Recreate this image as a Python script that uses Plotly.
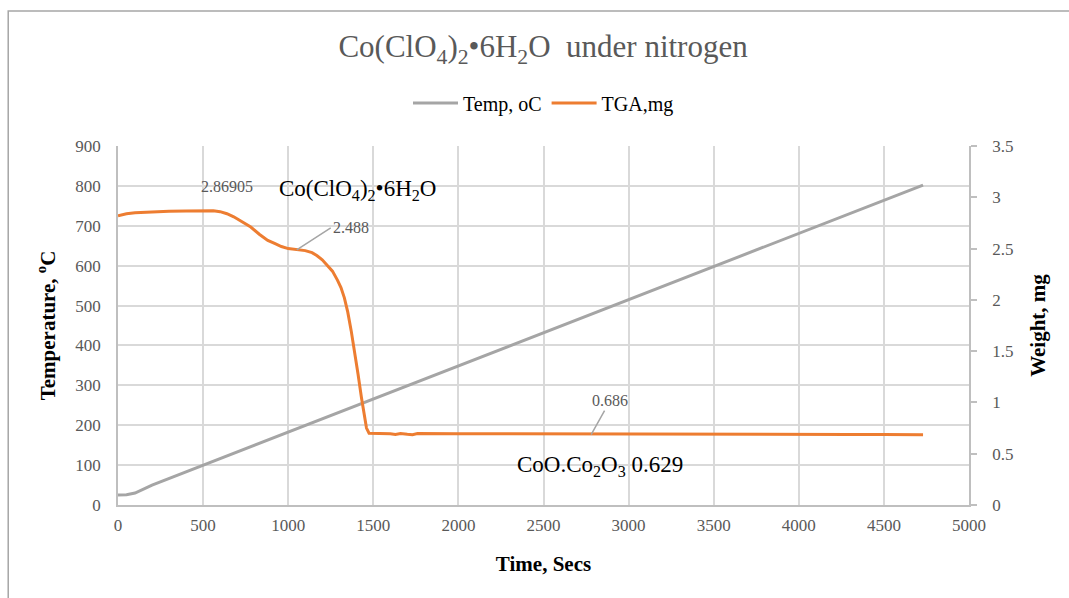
import plotly.graph_objects as go

# ---- data ----
temp_time = [0, 50, 100, 150, 200, 4730]
temp_c = [25, 25.5, 30, 41, 50, 802]

tga_time = [0, 50, 100, 190, 300, 400, 500, 560, 600, 640, 680, 720, 780, 830, 880,
            920, 960, 1000, 1050, 1100, 1140, 1170, 1200, 1230, 1260, 1290, 1310, 1330,
            1350, 1370, 1390, 1410, 1430, 1445, 1460, 1475, 1500, 1550, 1600, 1630, 1660,
            1700, 1730, 1760, 1800, 1900, 1950, 2000, 2200, 2500, 2800, 3000, 3300, 3500,
            3600, 3800, 4000, 4300, 4500, 4730]
tga_mg = [2.82, 2.84, 2.85, 2.86, 2.865, 2.867, 2.869, 2.868, 2.86, 2.84, 2.81, 2.77, 2.71,
          2.64, 2.58, 2.55, 2.52, 2.50, 2.488, 2.48, 2.46, 2.43, 2.39, 2.34, 2.28, 2.19,
          2.12, 2.02, 1.88, 1.70, 1.50, 1.28, 1.05, 0.88, 0.75, 0.70, 0.70, 0.698, 0.695,
          0.688, 0.697, 0.69, 0.686, 0.697, 0.696, 0.694, 0.689, 0.695, 0.694, 0.692, 0.690,
          0.690, 0.688, 0.688, 0.686, 0.688, 0.688, 0.687, 0.687, 0.686]

x_ticks = [0, 500, 1000, 1500, 2000, 2500, 3000, 3500, 4000, 4500, 5000]
y_ticks = [0, 100, 200, 300, 400, 500, 600, 700, 800, 900]
y2_ticks = [0, 0.5, 1, 1.5, 2, 2.5, 3, 3.5]

# labelled points (time, value, text)
lbl_max = (640, 2.86905, "2.86905")
lbl_step = (1050, 2.488, "2.488")
lbl_final = (2780, 0.686, "0.686")

FONT = "Liberation Serif"
GRAY_TXT = "#595959"
GRID = "#d9d9d9"
AXIS = "#bfbfbf"

fig = go.Figure()
fig.add_trace(go.Scatter(x=temp_time, y=temp_c, mode="lines", name="Temp, oC",
                         line=dict(color="#a5a5a5", width=3)))
fig.add_trace(go.Scatter(x=tga_time, y=tga_mg, mode="lines", name="TGA,mg", yaxis="y2",
                         line=dict(color="#ed7d31", width=3)))

fig.update_layout(
    width=1069, height=598,
    margin=dict(l=118, r=100, t=146, b=93),
    paper_bgcolor="white", plot_bgcolor="white",
    font=dict(family=FONT, color=GRAY_TXT, size=17),
    title=dict(text="Co(ClO<sub>4</sub>)<sub>2</sub>•6H<sub>2</sub>O  under nitrogen",
               x=0.508, xanchor="center", y=0.922, yanchor="middle",
               font=dict(family=FONT, size=31, color=GRAY_TXT)),
    legend=dict(orientation="h", x=0.5, xanchor="center", y=1.12, yanchor="middle",
                font=dict(family=FONT, size=20, color="#000000"), itemwidth=45,
                bgcolor="rgba(0,0,0,0)"),
    xaxis=dict(range=[0, 5000], tickvals=x_ticks, showgrid=True, gridcolor=GRID, gridwidth=1.5,
               showline=True, linecolor=AXIS, linewidth=1.5, zeroline=False, ticks="",
               ticklabelstandoff=4,
               tickfont=dict(family=FONT, size=17, color=GRAY_TXT),
               title=dict(text="<b>Time, Secs</b>", font=dict(family=FONT, size=21, color="#000"),
                          standoff=22)),
    yaxis=dict(range=[0, 900], tickvals=y_ticks, showgrid=True, gridcolor=GRID, gridwidth=1.5,
               showline=True, linecolor=AXIS, linewidth=1.5, zeroline=False, ticks="",
               ticklabelstandoff=12,
               tickfont=dict(family=FONT, size=17, color=GRAY_TXT),
               title=dict(text="<b>Temperature, <sup>o</sup>C</b>",
                          font=dict(family=FONT, size=21, color="#000"), standoff=14)),
    yaxis2=dict(range=[0, 3.5], tickvals=y2_ticks, overlaying="y", side="right",
                showgrid=False, zeroline=False, showline=True, linecolor=AXIS, linewidth=1.5,
                ticks="outside", ticklen=6, tickcolor=AXIS, tickwidth=1.5,
                ticklabelstandoff=12,
                tickfont=dict(family=FONT, size=17, color=GRAY_TXT),
                title=dict(text="<b>Weight, mg</b>", font=dict(family=FONT, size=21, color="#000"),
                           standoff=18)),
    showlegend=True,
)

annos = [
    dict(x=lbl_max[0], y=lbl_max[1], xref="x", yref="y2", text=lbl_max[2], showarrow=False,
         yshift=24, font=dict(family=FONT, size=16, color=GRAY_TXT)),
    dict(x=lbl_step[0], y=lbl_step[1], xref="x", yref="y2", text=lbl_step[2], showarrow=True,
         arrowhead=0, arrowwidth=1.5, arrowcolor="#a5a5a5", ax=34, ay=-22,
         xanchor="left", font=dict(family=FONT, size=16, color=GRAY_TXT)),
    dict(x=lbl_final[0], y=lbl_final[1], xref="x", yref="y2", text=lbl_final[2], showarrow=True,
         arrowhead=0, arrowwidth=1.5, arrowcolor="#a5a5a5", ax=19, ay=-34,
         font=dict(family=FONT, size=16, color=GRAY_TXT)),
    dict(x=1410, y=3.07, xref="x", yref="y2", text="Co(ClO<sub>4</sub>)<sub>2</sub>•6H<sub>2</sub>O",
         showarrow=False, font=dict(family=FONT, size=23, color="#000")),
    dict(x=2830, y=0.38, xref="x", yref="y2", text="CoO.Co<sub>2</sub>O<sub>3</sub> 0.629",
         showarrow=False, font=dict(family=FONT, size=23, color="#000")),
]
fig.update_layout(annotations=annos)

fig.add_shape(type="rect", xref="paper", yref="paper", x0=-0.129, x1=1.3, y0=-0.4, y1=1.376,
              line=dict(color="#a6a6a6", width=1.5), fillcolor="rgba(0,0,0,0)", layer="below")

fig.write_html("out.html")
